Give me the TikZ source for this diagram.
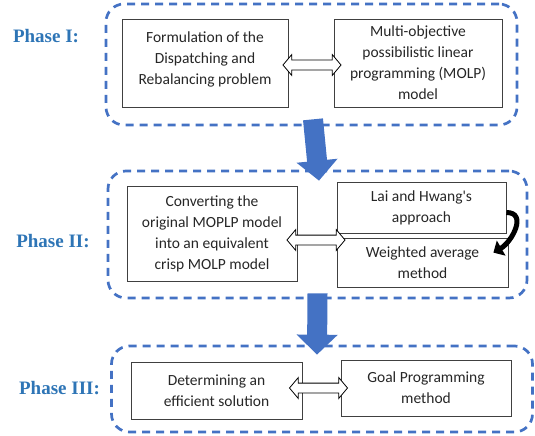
\documentclass[tikz,border=0pt]{standalone}
\usepackage{fontspec}
\setmainfont{Carlito}
\newfontfamily\phasefont{Liberation Serif}
\usetikzlibrary{shapes.arrows,arrows.meta}
\definecolor{phaseblue}{HTML}{4472C4}
\definecolor{labelblue}{HTML}{2E75B6}

\begin{document}
\begin{tikzpicture}[x=1pt,y=-1pt]
            \tikzstyle{phase}=[draw=phaseblue, line width=2.7pt, dash pattern=on 8pt off 6pt, rounded corners=18pt, inner sep=0pt]
            \tikzstyle{box}=[draw=black!75, line width=0.8pt, align=center, inner sep=2pt, text=black!85, font=\fontsize{15.5}{21}\selectfont]
            \tikzstyle{phaselabel}=[text=labelblue, font=\phasefont\bfseries\fontsize{19}{22}\selectfont]
            \tikzstyle{dblarrow}=[double arrow, draw=black, fill=white, line width=0.8pt, minimum height=58pt, inner xsep=0pt, inner ysep=4.5pt, double arrow head extend=5.5pt, double arrow tip angle=100]
            \tikzstyle{flow}=[line width=20pt, draw=phaseblue, -{Triangle[length=20pt,width=40pt]}]
            \tikzstyle{bendarrow}=[line width=5pt, -{Triangle[length=9pt,width=17pt]}]
            \useasboundingbox (0,0) rectangle (535,436);
            % phase frames
            \node[phase, minimum width=411pt, minimum height=121pt] (p1) at (311.5,64.5) {};
            \node[phase, minimum width=419pt, minimum height=127pt] (p2) at (317.5,234.5) {};
            \node[phase, minimum width=421pt, minimum height=86pt] (p3) at (322,389) {};
            \node[phaselabel] (l1) at (46,36) {Phase I:};
            \node[phaselabel] (l2) at (53,241) {Phase II:};
            \node[phaselabel] (l3) at (59.5,388) {Phase III:};
            % phase I
            \node[box, minimum width=166pt, minimum height=88pt] (form) at (205,63) {\raisebox{4pt}[\height][\depth]{\begin{tabular}{@{}c@{}}Formulation of the\\Dispatching and\\Rebalancing problem\end{tabular}}};
            \node[box, minimum width=168pt, minimum height=88pt] (molp) at (418,63) {Multi-objective\\possibilistic linear\\programming (MOLP)\\model};
            % phase II
            \node[box, minimum width=170pt, minimum height=95pt] (conv) at (212,233.5) {Converting the\\original MOPLP model\\into an equivalent\\crisp MOLP model};
            \node[box, minimum width=169pt, minimum height=51pt] (lai) at (421.5,207.5) {Lai and Hwang\textquotesingle s\\approach};
            \node[box, minimum width=171pt, minimum height=49pt] (wavg) at (422.5,262.5) {Weighted average\\method};
            % phase III
            \node[box, minimum width=171pt, minimum height=57pt] (eff) at (216.5,390.5) {Determining an\\efficient solution};
            \node[box, minimum width=170pt, minimum height=56pt] (goal) at (426,388) {Goal Programming\\method};
            % links
            \node[dblarrow] (d1) at (312,65) {};
            \node[dblarrow] (d2) at (316,240) {};
            \node[dblarrow] (d3) at (318.5,388) {};
            \draw[flow] ([xshift=1.5pt,yshift=7pt]p1.south) -- ([xshift=1.5pt,yshift=-11pt]p2.north);
            \draw[flow] ([yshift=6pt]p2.south) -- ([xshift=-5pt,yshift=-10pt]p3.north);
            \draw[bendarrow] ([yshift=-5pt]lai.east) to[out=0, in=30, looseness=1.3] ([shift={(-15pt,-15pt)}]wavg.north east);
        \end{tikzpicture}
\end{document}
